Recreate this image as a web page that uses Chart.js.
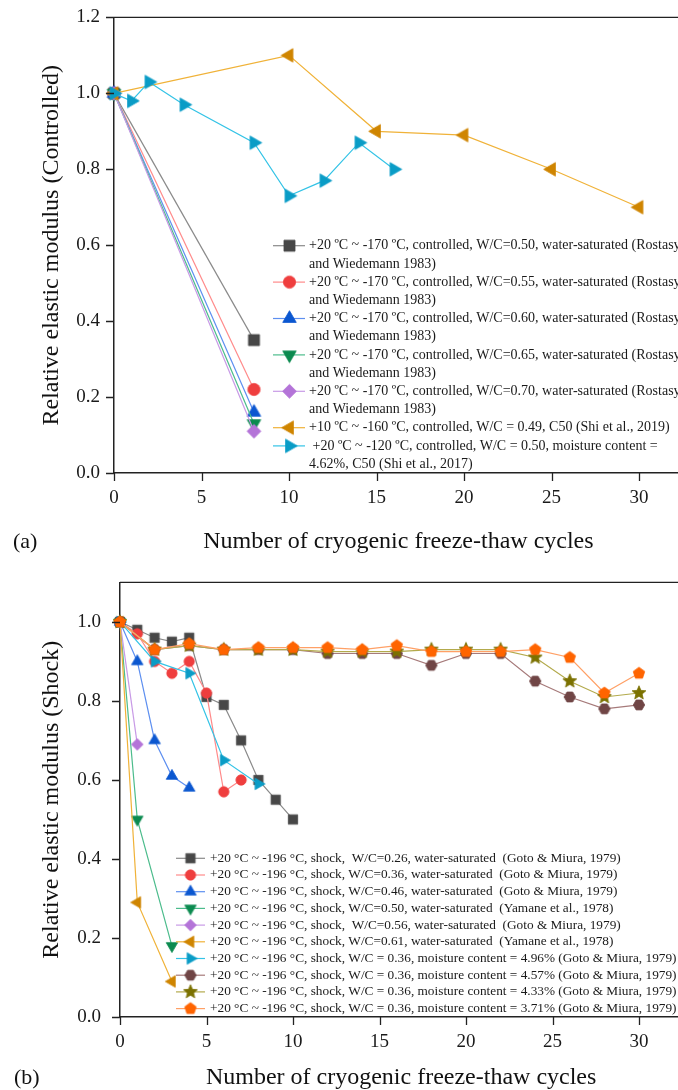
<!DOCTYPE html>
<html>
<head>
<meta charset="utf-8">
<script src="https://cdn.jsdelivr.net/npm/chart.js@4.4.1/dist/chart.umd.min.js"></script>
<style>
  html, body { margin: 0; padding: 0; background: #fff; }
  body { width: 678px; height: 1090px; overflow: hidden; position: relative; }
  canvas { position: absolute; left: 0; }
  #chartA { top: 0; }
  #chartB { top: 560px; }
</style>
</head>
<body>
<canvas id="chartA" width="700" height="560" style="width:700px;height:560px"></canvas>
<canvas id="chartB" width="700" height="530" style="width:700px;height:530px"></canvas>
<script>
// ---------- (a) controlled cryogenic freeze-thaw ----------
const rostasyCycles = [0, 8];
const rostasyWC050 = [1.00, 0.35];
const rostasyWC055 = [1.00, 0.22];
const rostasyWC060 = [1.00, 0.16];
const rostasyWC065 = [1.00, 0.13];
const rostasyWC070 = [1.00, 0.11];
const shi2019Cycles = [0, 10, 15, 20, 25, 30];
const shi2019Modulus = [1.00, 1.10, 0.90, 0.89, 0.80, 0.70];
const shi2017Cycles = [0, 1, 2, 4, 8, 10, 12, 14, 16];
const shi2017Modulus = [1.00, 0.98, 1.03, 0.97, 0.87, 0.73, 0.77, 0.87, 0.80];

// ---------- (b) shock cryogenic freeze-thaw ----------
const gotoWC026Cycles = [0, 1, 2, 3, 4, 5, 6, 7, 8, 9, 10];
const gotoWC026 = [1.00, 0.98, 0.96, 0.95, 0.96, 0.81, 0.79, 0.70, 0.60, 0.55, 0.50];
const gotoWC036Cycles = [0, 1, 2, 3, 4, 5, 6, 7];
const gotoWC036 = [1.00, 0.97, 0.90, 0.87, 0.90, 0.82, 0.57, 0.60];
const gotoWC046Cycles = [0, 1, 2, 3, 4];
const gotoWC046 = [1.00, 0.90, 0.70, 0.61, 0.58];
const yamaneWC050Cycles = [0, 1, 3];
const yamaneWC050 = [1.00, 0.50, 0.18];
const gotoWC056Cycles = [0, 1];
const gotoWC056 = [1.00, 0.69];
const yamaneWC061Cycles = [0, 1, 3];
const yamaneWC061 = [1.00, 0.29, 0.09];
const moist496Cycles = [0, 2, 4, 6, 8];
const moist496 = [1.00, 0.90, 0.87, 0.65, 0.59];
const moistCycles = [0, 2, 4, 6, 8, 10, 12, 14, 16, 18, 20, 22, 24, 26, 28, 30];
const moist457 = [1.00, 0.93, 0.94, 0.93, 0.93, 0.93, 0.92, 0.92, 0.92, 0.89, 0.92, 0.92, 0.85, 0.81, 0.78, 0.79];
const moist433 = [1.00, 0.93, 0.94, 0.93, 0.93, 0.93, 0.925, 0.925, 0.925, 0.93, 0.93, 0.93, 0.91, 0.85, 0.81, 0.82];
const moist371 = [1.00, 0.93, 0.945, 0.93, 0.935, 0.935, 0.935, 0.93, 0.94, 0.925, 0.925, 0.925, 0.93, 0.91, 0.82, 0.87];

// ---------- axis tick labels ----------
const xTickLabels = [0, 5, 10, 15, 20, 25, 30];
const yTickLabelsA = [0.0, 0.2, 0.4, 0.6, 0.8, 1.0, 1.2];
const yTickLabelsB = [0.0, 0.2, 0.4, 0.6, 0.8, 1.0];

// ---------- legend texts (one array per entry, one string per printed line) ----------
const legendA = [
  ['+20 ºC ~ -170 ºC, controlled, W/C=0.50, water-saturated (Rostasy', 'and Wiedemann 1983)'],
  ['+20 ºC ~ -170 ºC, controlled, W/C=0.55, water-saturated (Rostasy', 'and Wiedemann 1983)'],
  ['+20 ºC ~ -170 ºC, controlled, W/C=0.60, water-saturated (Rostasy', 'and Wiedemann 1983)'],
  ['+20 ºC ~ -170 ºC, controlled, W/C=0.65, water-saturated (Rostasy', 'and Wiedemann 1983)'],
  ['+20 ºC ~ -170 ºC, controlled, W/C=0.70, water-saturated (Rostasy', 'and Wiedemann 1983)'],
  ['+10 ºC ~ -160 ºC, controlled, W/C = 0.49, C50 (Shi et al., 2019)'],
  [' +20 ºC ~ -120 ºC, controlled, W/C = 0.50, moisture content =', '4.62%, C50 (Shi et al., 2017)']
];
const legendB = [
  ['+20 °C ~ -196 °C, shock,  W/C=0.26, water-saturated  (Goto & Miura, 1979)'],
  ['+20 °C ~ -196 °C, shock, W/C=0.36, water-saturated  (Goto & Miura, 1979)'],
  ['+20 °C ~ -196 °C, shock, W/C=0.46, water-saturated  (Goto & Miura, 1979)'],
  ['+20 °C ~ -196 °C, shock, W/C=0.50, water-saturated  (Yamane et al., 1978)'],
  ['+20 °C ~ -196 °C, shock,  W/C=0.56, water-saturated  (Goto & Miura, 1979)'],
  ['+20 °C ~ -196 °C, shock, W/C=0.61, water-saturated  (Yamane et al., 1978)'],
  ['+20 °C ~ -196 °C, shock, W/C = 0.36, moisture content = 4.96% (Goto & Miura, 1979)'],
  ['+20 °C ~ -196 °C, shock, W/C = 0.36, moisture content = 4.57% (Goto & Miura, 1979)'],
  ['+20 °C ~ -196 °C, shock, W/C = 0.36, moisture content = 4.33% (Goto & Miura, 1979)'],
  ['+20 °C ~ -196 °C, shock, W/C = 0.36, moisture content = 3.71% (Goto & Miura, 1979)']
];

const SERIF = '"Liberation Serif", "Times New Roman", serif';
Chart.defaults.font.family = SERIF;
Chart.defaults.color = '#1a1a1a';

// Filled symbol sprites used both as point styles and in the legends
function makeMarker(shape, color, size) {
  const dim = Math.ceil(size * 1.45) + 2;
  const c = document.createElement('canvas');
  c.width = dim; c.height = dim;
  const g = c.getContext('2d');
  const cx = dim / 2, cy = dim / 2;
  g.fillStyle = color; g.strokeStyle = color; g.lineWidth = 0.8; g.lineJoin = 'miter';
  const poly = (n, r, start) => {
    g.beginPath();
    for (let k = 0; k < n; k++) {
      const a = start + k * 2 * Math.PI / n;
      const px = cx + r * Math.cos(a), py = cy + r * Math.sin(a);
      k ? g.lineTo(px, py) : g.moveTo(px, py);
    }
    g.closePath();
  };
  const deg = Math.PI / 180;
  switch (shape) {
    case 'square': poly(4, size * 0.85 / Math.SQRT2, 45 * deg); break;
    case 'circle': g.beginPath(); g.arc(cx, cy, size * 0.47, 0, 2 * Math.PI); break;
    case 'up': poly(3, size * 0.6, -90 * deg); break;
    case 'down': poly(3, size * 0.6, 90 * deg); break;
    case 'left': poly(3, size * 0.6, 180 * deg); break;
    case 'right': poly(3, size * 0.6, 0); break;
    case 'diamond': poly(4, size * 0.53, -90 * deg); break;
    case 'pentagon': poly(5, size * 0.55, -90 * deg); break;
    case 'hexagon': poly(6, size * 0.52, 0); break;
    case 'star': {
      g.beginPath();
      const ro = size * 0.66, ri = ro * 0.45;
      for (let k = 0; k < 10; k++) {
        const r = k % 2 ? ri : ro;
        const a = -90 * deg + k * 36 * deg;
        const px = cx + r * Math.cos(a), py = cy + r * Math.sin(a);
        k ? g.lineTo(px, py) : g.moveTo(px, py);
      }
      g.closePath();
      break;
    }
  }
  g.fill(); g.stroke();
  return c;
}

function toPoints(xs, ys) { return xs.map((x, i) => ({ x: x, y: ys[i] })); }

function series(label, xs, ys, shape, markColor, lineColor, size) {
  return {
    label: label, data: toPoints(xs, ys), showLine: true, tension: 0,
    borderColor: lineColor, backgroundColor: markColor, borderWidth: 1.2,
    pointStyle: makeMarker(shape, markColor, size), pointRadius: size / 2, pointHoverRadius: size / 2,
    clip: false
  };
}

// later series are painted above earlier ones
function stackOrder(list) { list.forEach((d, i) => { d.order = list.length - i; }); return list; }

const near = (arr, v) => arr.some(t => Math.abs(t - v) < 1e-6);

// frame (top edge) and Origin-style outward major/minor ticks
const axisFrame = {
  id: 'axisFrame',
  afterDraw(chart) {
    const { ctx, chartArea: a, scales: { x, y } } = chart;
    ctx.save();
    ctx.strokeStyle = '#222'; ctx.lineWidth = 1.4;
    ctx.beginPath();
    ctx.moveTo(a.left, a.top); ctx.lineTo(a.right, a.top); ctx.lineTo(a.right, a.bottom);
    ctx.stroke();
    ctx.lineWidth = 1.3;
    ctx.beginPath();
    x.ticks.forEach(t => {
      const px = Math.round(x.getPixelForValue(t.value)) + 0.5;
      const len = t.label != null ? 8 : 4;
      ctx.moveTo(px, a.bottom); ctx.lineTo(px, a.bottom + len);
    });
    y.ticks.forEach(t => {
      const py = Math.round(y.getPixelForValue(t.value)) + 0.5;
      const len = t.label != null ? 8 : 4;
      ctx.moveTo(a.left, py); ctx.lineTo(a.left - len, py);
    });
    ctx.stroke();
    ctx.restore();
  }
};

function legendPlugin(cfg) {
  return {
    id: 'panelLegend',
    afterDraw(chart) {
      const ctx = chart.ctx;
      ctx.save();
      ctx.textBaseline = 'middle'; ctx.textAlign = 'left';
      let row = 0;
      cfg.entries.forEach((lines, i) => {
        const ds = chart.data.datasets[i];
        const y = cfg.y0 + row * cfg.pitch;
        ctx.strokeStyle = ds.borderColor; ctx.lineWidth = ds.borderWidth;
        ctx.beginPath(); ctx.moveTo(cfg.lineX0, y); ctx.lineTo(cfg.lineX1, y); ctx.stroke();
        const img = ds.pointStyle;
        ctx.drawImage(img, cfg.markX - img.width / 2, y - img.height / 2);
        ctx.fillStyle = '#1a1a1a';
        ctx.font = cfg.fontSize + 'px ' + SERIF;
        lines.forEach((t, k) => ctx.fillText(t, cfg.textX, y + k * cfg.pitch));
        row += lines.length;
      });
      ctx.font = cfg.tagSize + 'px ' + SERIF;
      ctx.fillStyle = '#111';
      ctx.fillText(cfg.tag, cfg.tagX, cfg.tagY);
      ctx.restore();
    }
  };
}

function panelOptions(p) {
  return {
    responsive: false, maintainAspectRatio: false, animation: false,
    layout: { padding: { top: p.padTop, left: 0, right: p.padRight, bottom: 0 } },
    plugins: { legend: { display: false }, tooltip: { enabled: false } },
    scales: {
      x: {
        type: 'linear', min: 0, max: 32.5,
        ticks: {
          stepSize: 2.5, autoSkip: false, maxRotation: 0, padding: p.xTickPad,
          font: { size: p.tickSize }, color: '#1a1a1a',
          callback: v => near(xTickLabels, v) ? String(Math.round(v)) : null
        },
        grid: { display: false, drawTicks: true, tickLength: 8 },
        border: { display: true, color: '#222', width: 1.5 },
        title: {
          display: true, text: 'Number of cryogenic freeze-thaw cycles', color: '#111',
          font: { size: 24, lineHeight: 1 }, padding: { top: 0, bottom: p.xTitlePad }
        },
        afterFit: s => { s.height = p.xHeight; }
      },
      y: {
        type: 'linear', min: 0, max: p.yMax,
        ticks: {
          stepSize: 0.1, autoSkip: false, padding: p.yTickPad,
          font: { size: p.tickSize }, color: '#1a1a1a',
          callback: v => near(p.yLabels, v) ? v.toFixed(1) : null
        },
        grid: { display: false, drawTicks: true, tickLength: 8 },
        border: { display: true, color: '#222', width: 1.5 },
        title: {
          display: true, text: p.yTitle, color: '#111',
          font: { size: 24, lineHeight: 1 }, padding: { top: 40, bottom: 0 }
        },
        afterFit: s => { s.width = p.yWidth; }
      }
    }
  };
}

// ---------- panel (a) ----------
const dsA = stackOrder([
  series(legendA[0].join(' '), rostasyCycles, rostasyWC050, 'square', '#474747', '#8a8a8a', 13),
  series(legendA[1].join(' '), rostasyCycles, rostasyWC055, 'circle', '#ef3e3e', '#ff8a8a', 13),
  series(legendA[2].join(' '), rostasyCycles, rostasyWC060, 'up', '#0b57d0', '#5d8ff0', 13),
  series(legendA[3].join(' '), rostasyCycles, rostasyWC065, 'down', '#0b8a4f', '#4cbc8c', 13),
  series(legendA[4].join(' '), rostasyCycles, rostasyWC070, 'diamond', '#b474d8', '#c89ae6', 13),
  series(legendA[5].join(' '), shi2019Cycles, shi2019Modulus, 'left', '#cf8500', '#f0b238', 13),
  series(legendA[6].join(' '), shi2017Cycles, shi2017Modulus, 'right', '#0a9cc6', '#33c3e6', 13)
]);

new Chart(document.getElementById('chartA'), {
  type: 'scatter',
  data: { datasets: dsA },
  options: panelOptions({
    padTop: 15.5, padRight: 17.25, xHeight: 87, yWidth: 114, xTitlePad: 6,
    xTickPad: 6, yTickPad: 6, tickSize: 19, yMax: 1.2, yLabels: yTickLabelsA,
    yTitle: 'Relative elastic modulus (Controlled)'
  }),
  plugins: [axisFrame, legendPlugin({
    entries: legendA, y0: 245.7, pitch: 18.2, lineX0: 273, lineX1: 305, markX: 289.5,
    textX: 309, fontSize: 14, tag: '(a)', tagX: 13, tagY: 542, tagSize: 22
  })]
});

// ---------- panel (b) ----------
const dsB = stackOrder([
  series(legendB[0][0], gotoWC026Cycles, gotoWC026, 'square', '#474747', '#8a8a8a', 11),
  series(legendB[1][0], gotoWC036Cycles, gotoWC036, 'circle', '#ef3e3e', '#ff8a8a', 11),
  series(legendB[2][0], gotoWC046Cycles, gotoWC046, 'up', '#0b57d0', '#5d8ff0', 11),
  series(legendB[3][0], yamaneWC050Cycles, yamaneWC050, 'down', '#0b8a4f', '#4cbc8c', 11),
  series(legendB[4][0], gotoWC056Cycles, gotoWC056, 'diamond', '#b474d8', '#c89ae6', 11),
  series(legendB[5][0], yamaneWC061Cycles, yamaneWC061, 'left', '#cf8500', '#f0b238', 11),
  series(legendB[6][0], moist496Cycles, moist496, 'right', '#0a9cc6', '#33c3e6', 11),
  series(legendB[7][0], moistCycles, moist457, 'hexagon', '#704545', '#a67a7a', 11),
  series(legendB[8][0], moistCycles, moist433, 'star', '#7b7100', '#b3aa4c', 11),
  series(legendB[9][0], moistCycles, moist371, 'pentagon', '#ff6400', '#ffa066', 11)
]);

new Chart(document.getElementById('chartB'), {
  type: 'scatter',
  data: { datasets: dsB },
  options: panelOptions({
    padTop: 6, padRight: 17.75, xHeight: 73, yWidth: 120, xTitlePad: 0,
    xTickPad: 6, yTickPad: 11, tickSize: 19, yMax: 1.1, yLabels: yTickLabelsB,
    yTitle: 'Relative elastic modulus (Shock)'
  }),
  plugins: [axisFrame, legendPlugin({
    entries: legendB, y0: 298.3, pitch: 16.7, lineX0: 176, lineX1: 205, markX: 190.5,
    textX: 210, fontSize: 13.3, tag: '(b)', tagX: 14, tagY: 518, tagSize: 22
  })]
});
</script>
</body>
</html>
